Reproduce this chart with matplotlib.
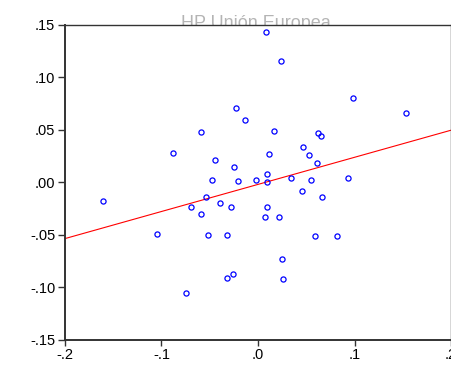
import numpy as np
import matplotlib
matplotlib.use("Agg")
import matplotlib.pyplot as plt
from matplotlib.ticker import FixedLocator, FixedFormatter

# data (HP series, Union Europea)
x_vals = [0.0088, 0.0240, 0.0985, 0.1534, -0.0226, -0.0133, -0.0595, 0.0164,
          0.0626, 0.0654, -0.0882, -0.0443, 0.0464, 0.0116, 0.0530, -0.0246,
          0.0616, -0.0481, -0.0209, -0.0023, 0.0095, 0.0098, 0.0344, 0.0554,
          0.0937, 0.0458, 0.0660, -0.0543, -0.0391, -0.0282, -0.0699, -0.0595,
          0.0091, 0.0075, 0.0219, -0.1610, -0.1051, -0.0520, -0.0326, 0.0595,
          0.0820, 0.0251, -0.0254, -0.0323, 0.0254, -0.0747]
y_vals = [0.1429, 0.1152, 0.0800, 0.0657, 0.0705, 0.0590, 0.0479, 0.0489,
          0.0472, 0.0441, 0.0279, 0.0212, 0.0336, 0.0270, 0.0263, 0.0143,
          0.0187, 0.0025, 0.0010, 0.0025, 0.0079, 0.0003, 0.0044, 0.0025,
          0.0044, -0.0083, -0.0137, -0.0143, -0.0200, -0.0232, -0.0238, -0.0305,
          -0.0235, -0.0333, -0.0333, -0.0178, -0.0492, -0.0505, -0.0502, -0.0511,
          -0.0511, -0.0728, -0.0876, -0.0914, -0.0924, -0.1057]

# fitted line
fit_slope = 0.258
fit_intercept = -0.0021

x_ticks = [-0.2, -0.1, 0.0, 0.1, 0.2]
x_labels = ["-.2", "-.1", ".0", ".1", ".2"]
y_ticks = [-0.15, -0.10, -0.05, 0.00, 0.05, 0.10, 0.15]
y_labels = ["-.15", "-.10", "-.05", ".00", ".05", ".10", ".15"]
title = "HP Unión Europea"

plt.rcParams['font.family'] = ['Liberation Sans', 'DejaVu Sans']

fig = plt.figure(figsize=(4.52, 3.74), dpi=100)
ax = fig.add_axes([0.1438, 0.0917, 0.854, 0.8423])

# title sits behind the axes, so the plot box hides its lower part
fig.text(0.566, 1 - 27.8 / 374, title, ha='center', va='baseline',
         fontsize=13, color='#b4b4b4', zorder=-1)

xl = np.array([-0.2, 0.2])
ax.plot(xl, fit_intercept + fit_slope * xl, color='red', lw=0.8, zorder=2)
ax.plot(x_vals, y_vals, 'o', ms=3.7, mfc='none', mec='blue', mew=0.9,
        zorder=3, clip_on=False)

ax.set_xlim(-0.2, 0.2)
ax.set_ylim(-0.15, 0.15)
ax.xaxis.set_major_locator(FixedLocator(x_ticks))
ax.xaxis.set_major_formatter(FixedFormatter(x_labels))
ax.yaxis.set_major_locator(FixedLocator(y_ticks))
ax.yaxis.set_major_formatter(FixedFormatter(y_labels))
ax.tick_params(axis='x', direction='out', length=4, width=1, labelsize=10.5,
               color='#333333', pad=2)
ax.tick_params(axis='y', direction='out', length=5, width=1, labelsize=10.5,
               color='#333333', pad=2)
for s in ax.spines.values():
    s.set_color('#333333')
    s.set_linewidth(1)
ax.spines['left'].set_linewidth(1.4)
ax.spines['bottom'].set_linewidth(1.4)

fig.savefig("out.png", dpi=100)
